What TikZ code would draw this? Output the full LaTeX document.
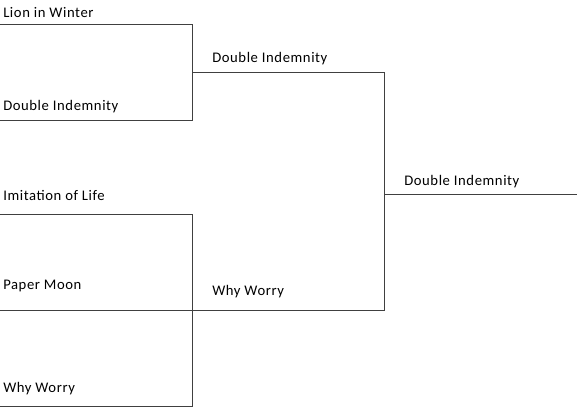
\documentclass[tikz,border=0pt]{standalone}
\usepackage{fontspec}
\setmainfont{Carlito}[LetterSpace=4]
\begin{document}
\begin{tikzpicture}[x=0.75pt,y=-0.75pt,
  lbl/.style={anchor=base west,inner sep=0pt,font=\fontsize{11pt}{13pt}\selectfont,text=black},
  br/.style={draw=black!75,line width=0.75pt}]
\useasboundingbox (0,0) rectangle (577,407);
% coordinates of bracket lines
\coordinate (a0) at (0,24);    \coordinate (a1) at (192,24);
\coordinate (b0) at (0,120);   \coordinate (b1) at (192,120);
\coordinate (c0) at (0,214);   \coordinate (c1) at (192,214);
\coordinate (d0) at (0,310);   \coordinate (d1) at (192,310);
\coordinate (e0) at (0,406);   \coordinate (e1) at (192,406);
\coordinate (f0) at (192,72);  \coordinate (f1) at (384,72);
\coordinate (g1) at (384,310);
\coordinate (h0) at (384,194); \coordinate (h1) at (577,194);
% labels
\node[lbl] (t1) at (3,17) {Lion in Winter};
\node[lbl] (t2) at (3,110) {Double Indemnity};
\node[lbl] (t3) at (3,200) {Imitation of Life};
\node[lbl] (t4) at (3,289) {Paper Moon};
\node[lbl] (t5) at (3,392) {Why Worry};
\node[lbl] (t6) at (212,62.5) {Double Indemnity};
\node[lbl] (t7) at (212,295) {Why Worry};
\node[lbl] (t8) at (404,185.5) {Double Indemnity};
% lines
\draw[br] (a0) -- (a1) -- (b1) -- (b0);
\draw[br] (c0) -- (c1) -- (e1) -- (e0);
\draw[br] (d0) -- (g1) -- (f1) -- (f0);
\draw[br] (h0) -- (h1);
\end{tikzpicture}
\end{document}
